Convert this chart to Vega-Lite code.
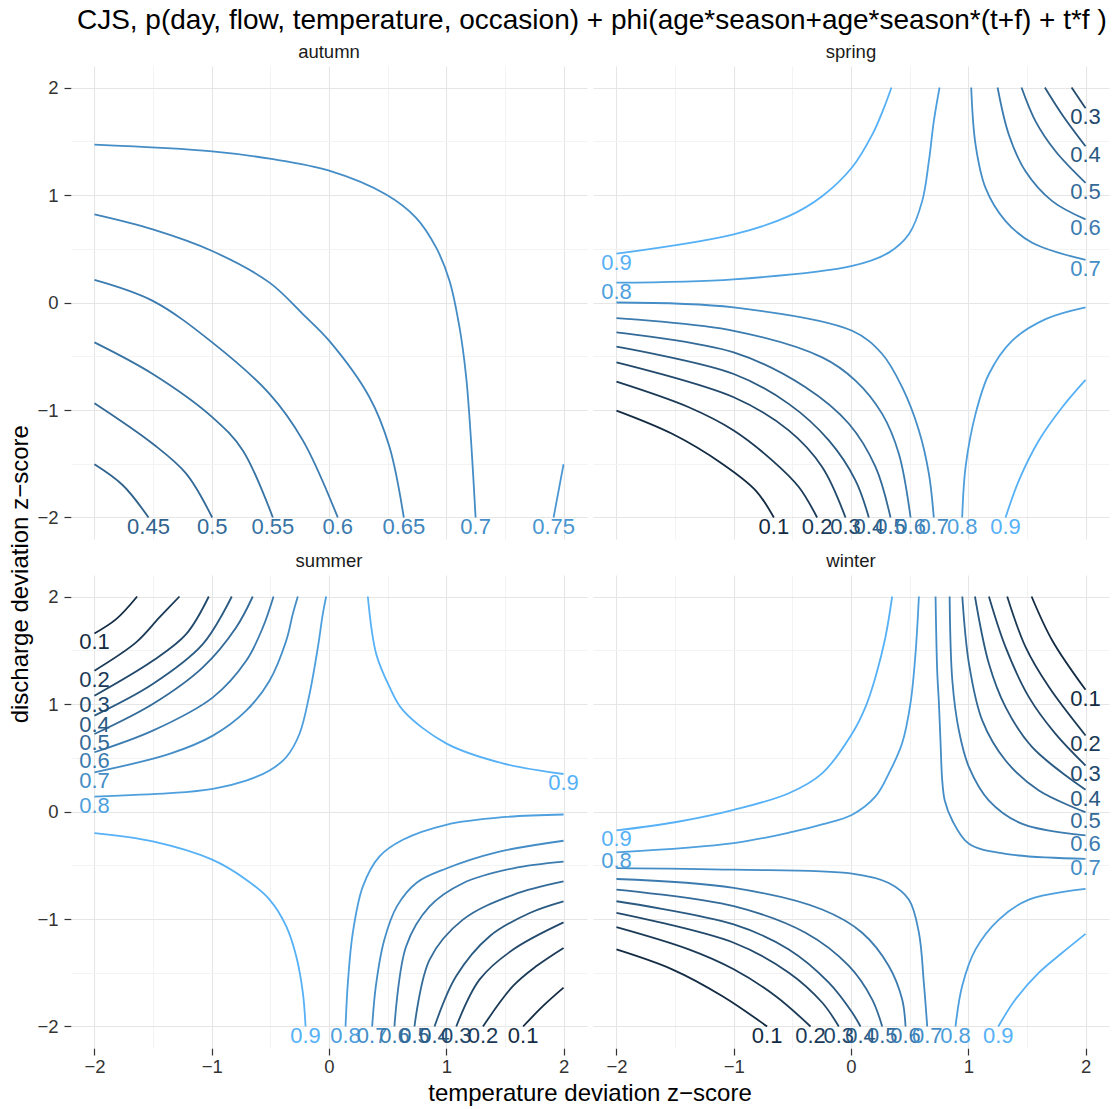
{
"$schema": "https://vega.github.io/schema/vega-lite/v6.json",
"padding": {"left": 8, "right": 2, "top": 6, "bottom": 2},
"title": {"text": "CJS, p(day, flow, temperature, occasion) + phi(age*season+age*season*(t+f) + t*f )", "fontSize": 28, "font": "Liberation Sans", "fontWeight": "normal", "color": "black", "anchor": "start", "dx": 68, "offset": 8},
"vconcat": [{
"title": {"text": "discharge deviation z−score", "orient": "left", "fontSize": 24, "font": "Liberation Sans", "fontWeight": "normal", "color": "black", "anchor": "middle", "offset": 4},
"data": {"values": [
{"s":"autumn","k":"l","g":"a1","o":1,"v":0.45,"x":-2,"y":-1.505},
{"s":"autumn","k":"l","g":"a1","o":2,"v":0.45,"x":-1.758,"y":-1.7},
{"s":"autumn","k":"l","g":"a1","o":3,"v":0.45,"x":-1.539,"y":-2},
{"s":"autumn","k":"l","g":"a2","o":1,"v":0.5,"x":-2,"y":-0.937},
{"s":"autumn","k":"l","g":"a2","o":2,"v":0.5,"x":-1.503,"y":-1.314},
{"s":"autumn","k":"l","g":"a2","o":3,"v":0.5,"x":-1.218,"y":-1.592},
{"s":"autumn","k":"l","g":"a2","o":4,"v":0.5,"x":-0.996,"y":-2},
{"s":"autumn","k":"l","g":"a3","o":1,"v":0.55,"x":-2,"y":-0.371},
{"s":"autumn","k":"l","g":"a3","o":2,"v":0.55,"x":-1.503,"y":-0.665},
{"s":"autumn","k":"l","g":"a3","o":3,"v":0.55,"x":-0.996,"y":-1.066},
{"s":"autumn","k":"l","g":"a3","o":4,"v":0.55,"x":-0.735,"y":-1.376},
{"s":"autumn","k":"l","g":"a3","o":5,"v":0.55,"x":-0.479,"y":-2},
{"s":"autumn","k":"l","g":"a4","o":1,"v":0.6,"x":-2,"y":0.21},
{"s":"autumn","k":"l","g":"a4","o":2,"v":0.6,"x":-1.503,"y":0.015},
{"s":"autumn","k":"l","g":"a4","o":3,"v":0.6,"x":-0.996,"y":-0.371},
{"s":"autumn","k":"l","g":"a4","o":4,"v":0.6,"x":-0.507,"y":-0.85},
{"s":"autumn","k":"l","g":"a4","o":5,"v":0.6,"x":-0.223,"y":-1.283},
{"s":"autumn","k":"l","g":"a4","o":6,"v":0.6,"x":0.075,"y":-2},
{"s":"autumn","k":"l","g":"a5","o":1,"v":0.65,"x":-2,"y":0.819},
{"s":"autumn","k":"l","g":"a5","o":2,"v":0.65,"x":-1.503,"y":0.68},
{"s":"autumn","k":"l","g":"a5","o":3,"v":0.65,"x":-0.996,"y":0.479},
{"s":"autumn","k":"l","g":"a5","o":4,"v":0.65,"x":-0.507,"y":0.185},
{"s":"autumn","k":"l","g":"a5","o":5,"v":0.65,"x":-0.223,"y":-0.108},
{"s":"autumn","k":"l","g":"a5","o":6,"v":0.65,"x":0.001,"y":-0.355},
{"s":"autumn","k":"l","g":"a5","o":7,"v":0.65,"x":0.345,"y":-0.881},
{"s":"autumn","k":"l","g":"a5","o":8,"v":0.65,"x":0.516,"y":-1.345},
{"s":"autumn","k":"l","g":"a5","o":9,"v":0.65,"x":0.638,"y":-2},
{"s":"autumn","k":"l","g":"a6","o":1,"v":0.7,"x":-2,"y":1.468},
{"s":"autumn","k":"l","g":"a6","o":2,"v":0.7,"x":-0.996,"y":1.406},
{"s":"autumn","k":"l","g":"a6","o":3,"v":0.7,"x":-0.507,"y":1.338},
{"s":"autumn","k":"l","g":"a6","o":4,"v":0.7,"x":0.001,"y":1.227},
{"s":"autumn","k":"l","g":"a6","o":5,"v":0.7,"x":0.487,"y":1.005},
{"s":"autumn","k":"l","g":"a6","o":6,"v":0.7,"x":0.743,"y":0.788},
{"s":"autumn","k":"l","g":"a6","o":7,"v":0.7,"x":0.914,"y":0.51},
{"s":"autumn","k":"l","g":"a6","o":8,"v":0.7,"x":1.028,"y":0.201},
{"s":"autumn","k":"l","g":"a6","o":9,"v":0.7,"x":1.113,"y":-0.232},
{"s":"autumn","k":"l","g":"a6","o":10,"v":0.7,"x":1.17,"y":-0.696},
{"s":"autumn","k":"l","g":"a6","o":11,"v":0.7,"x":1.213,"y":-1.314},
{"s":"autumn","k":"l","g":"a6","o":12,"v":0.7,"x":1.25,"y":-2},
{"s":"autumn","k":"l","g":"a7","o":1,"v":0.75,"x":2,"y":-1.505},
{"s":"autumn","k":"l","g":"a7","o":2,"v":0.75,"x":1.915,"y":-2},
{"s":"autumn","k":"t","v":0.45,"t":"0.45","x":-1.539,"y":-2},
{"s":"autumn","k":"t","v":0.5,"t":"0.5","x":-0.996,"y":-2},
{"s":"autumn","k":"t","v":0.55,"t":"0.55","x":-0.479,"y":-2},
{"s":"autumn","k":"t","v":0.6,"t":"0.6","x":0.075,"y":-2},
{"s":"autumn","k":"t","v":0.65,"t":"0.65","x":0.638,"y":-2},
{"s":"autumn","k":"t","v":0.7,"t":"0.7","x":1.25,"y":-2},
{"s":"autumn","k":"t","v":0.75,"t":"0.75","x":1.915,"y":-2},

{"s":"spring","k":"l","g":"p1","o":1,"v":0.9,"x":-2,"y":0.454},
{"s":"spring","k":"l","g":"p1","o":2,"v":0.9,"x":-1,"y":0.634},
{"s":"spring","k":"l","g":"p1","o":3,"v":0.9,"x":-0.531,"y":0.804},
{"s":"spring","k":"l","g":"p1","o":4,"v":0.9,"x":-0.246,"y":0.989},
{"s":"spring","k":"l","g":"p1","o":5,"v":0.9,"x":0.01,"y":1.258},
{"s":"spring","k":"l","g":"p1","o":6,"v":0.9,"x":0.181,"y":1.561},
{"s":"spring","k":"l","g":"p1","o":7,"v":0.9,"x":0.28,"y":1.808},
{"s":"spring","k":"l","g":"p1","o":8,"v":0.9,"x":0.345,"y":2},
{"s":"spring","k":"l","g":"p2","o":1,"v":0.8,"x":-2,"y":0.185},
{"s":"spring","k":"l","g":"p2","o":2,"v":0.8,"x":-1,"y":0.216},
{"s":"spring","k":"l","g":"p2","o":3,"v":0.8,"x":0.01,"y":0.34},
{"s":"spring","k":"l","g":"p2","o":4,"v":0.8,"x":0.322,"y":0.464},
{"s":"spring","k":"l","g":"p2","o":5,"v":0.8,"x":0.493,"y":0.634},
{"s":"spring","k":"l","g":"p2","o":6,"v":0.8,"x":0.607,"y":0.943},
{"s":"spring","k":"l","g":"p2","o":7,"v":0.8,"x":0.664,"y":1.314},
{"s":"spring","k":"l","g":"p2","o":8,"v":0.8,"x":0.706,"y":1.685},
{"s":"spring","k":"l","g":"p2","o":9,"v":0.8,"x":0.755,"y":2},
{"s":"spring","k":"l","g":"p3","o":1,"v":0.7,"x":1.025,"y":2},
{"s":"spring","k":"l","g":"p3","o":2,"v":0.7,"x":1.062,"y":1.468},
{"s":"spring","k":"l","g":"p3","o":3,"v":0.7,"x":1.147,"y":1.066},
{"s":"spring","k":"l","g":"p3","o":4,"v":0.7,"x":1.318,"y":0.757},
{"s":"spring","k":"l","g":"p3","o":5,"v":0.7,"x":1.545,"y":0.556},
{"s":"spring","k":"l","g":"p3","o":6,"v":0.7,"x":2,"y":0.396},
{"s":"spring","k":"l","g":"p4","o":1,"v":0.6,"x":1.25,"y":2},
{"s":"spring","k":"l","g":"p4","o":2,"v":0.6,"x":1.346,"y":1.561},
{"s":"spring","k":"l","g":"p4","o":3,"v":0.6,"x":1.488,"y":1.221},
{"s":"spring","k":"l","g":"p4","o":4,"v":0.6,"x":1.716,"y":0.943},
{"s":"spring","k":"l","g":"p4","o":5,"v":0.6,"x":2,"y":0.773},
{"s":"spring","k":"l","g":"p5","o":1,"v":0.5,"x":1.454,"y":2},
{"s":"spring","k":"l","g":"p5","o":2,"v":0.5,"x":1.574,"y":1.685},
{"s":"spring","k":"l","g":"p5","o":3,"v":0.5,"x":1.744,"y":1.407},
{"s":"spring","k":"l","g":"p5","o":4,"v":0.5,"x":2,"y":1.113},
{"s":"spring","k":"l","g":"p6","o":1,"v":0.4,"x":1.653,"y":2},
{"s":"spring","k":"l","g":"p6","o":2,"v":0.4,"x":1.801,"y":1.747},
{"s":"spring","k":"l","g":"p6","o":3,"v":0.4,"x":2,"y":1.453},
{"s":"spring","k":"l","g":"p7","o":1,"v":0.3,"x":1.881,"y":2},
{"s":"spring","k":"l","g":"p7","o":2,"v":0.3,"x":2,"y":1.808},
{"s":"spring","k":"l","g":"p8","o":1,"v":0.7,"x":-2,"y":0},
{"s":"spring","k":"l","g":"p8","o":2,"v":0.7,"x":-1,"y":-0.046},
{"s":"spring","k":"l","g":"p8","o":3,"v":0.7,"x":0.01,"y":-0.263},
{"s":"spring","k":"l","g":"p8","o":4,"v":0.7,"x":0.266,"y":-0.479},
{"s":"spring","k":"l","g":"p8","o":5,"v":0.7,"x":0.436,"y":-0.788},
{"s":"spring","k":"l","g":"p8","o":6,"v":0.7,"x":0.579,"y":-1.19},
{"s":"spring","k":"l","g":"p8","o":7,"v":0.7,"x":0.664,"y":-1.592},
{"s":"spring","k":"l","g":"p8","o":8,"v":0.7,"x":0.706,"y":-2},
{"s":"spring","k":"l","g":"p9","o":1,"v":0.6,"x":-2,"y":-0.145},
{"s":"spring","k":"l","g":"p9","o":2,"v":0.6,"x":-1,"y":-0.263},
{"s":"spring","k":"l","g":"p9","o":3,"v":0.6,"x":-0.246,"y":-0.51},
{"s":"spring","k":"l","g":"p9","o":4,"v":0.6,"x":0.038,"y":-0.726},
{"s":"spring","k":"l","g":"p9","o":5,"v":0.6,"x":0.266,"y":-1.036},
{"s":"spring","k":"l","g":"p9","o":6,"v":0.6,"x":0.408,"y":-1.407},
{"s":"spring","k":"l","g":"p9","o":7,"v":0.6,"x":0.508,"y":-2},
{"s":"spring","k":"l","g":"p10","o":1,"v":0.5,"x":-2,"y":-0.278},
{"s":"spring","k":"l","g":"p10","o":2,"v":0.5,"x":-1,"y":-0.464},
{"s":"spring","k":"l","g":"p10","o":3,"v":0.5,"x":-0.388,"y":-0.788},
{"s":"spring","k":"l","g":"p10","o":4,"v":0.5,"x":-0.018,"y":-1.128},
{"s":"spring","k":"l","g":"p10","o":5,"v":0.5,"x":0.209,"y":-1.53},
{"s":"spring","k":"l","g":"p10","o":6,"v":0.5,"x":0.337,"y":-2},
{"s":"spring","k":"l","g":"p11","o":1,"v":0.4,"x":-2,"y":-0.411},
{"s":"spring","k":"l","g":"p11","o":2,"v":0.4,"x":-1,"y":-0.665},
{"s":"spring","k":"l","g":"p11","o":3,"v":0.4,"x":-0.531,"y":-0.943},
{"s":"spring","k":"l","g":"p11","o":4,"v":0.4,"x":-0.189,"y":-1.283},
{"s":"spring","k":"l","g":"p11","o":5,"v":0.4,"x":0.038,"y":-1.654},
{"s":"spring","k":"l","g":"p11","o":6,"v":0.4,"x":0.152,"y":-2},
{"s":"spring","k":"l","g":"p12","o":1,"v":0.3,"x":-2,"y":-0.556},
{"s":"spring","k":"l","g":"p12","o":2,"v":0.3,"x":-1,"y":-0.881},
{"s":"spring","k":"l","g":"p12","o":3,"v":0.3,"x":-0.531,"y":-1.19},
{"s":"spring","k":"l","g":"p12","o":4,"v":0.3,"x":-0.246,"y":-1.53},
{"s":"spring","k":"l","g":"p12","o":5,"v":0.3,"x":-0.047,"y":-2},
{"s":"spring","k":"l","g":"p13","o":1,"v":0.2,"x":-2,"y":-0.736},
{"s":"spring","k":"l","g":"p13","o":2,"v":0.2,"x":-1.383,"y":-0.974},
{"s":"spring","k":"l","g":"p13","o":3,"v":0.2,"x":-1,"y":-1.19},
{"s":"spring","k":"l","g":"p13","o":4,"v":0.2,"x":-0.672,"y":-1.468},
{"s":"spring","k":"l","g":"p13","o":5,"v":0.2,"x":-0.445,"y":-1.716},
{"s":"spring","k":"l","g":"p13","o":6,"v":0.2,"x":-0.289,"y":-2},
{"s":"spring","k":"l","g":"p14","o":1,"v":0.1,"x":-2,"y":-1.005},
{"s":"spring","k":"l","g":"p14","o":2,"v":0.1,"x":-1.525,"y":-1.221},
{"s":"spring","k":"l","g":"p14","o":3,"v":0.1,"x":-1.099,"y":-1.499},
{"s":"spring","k":"l","g":"p14","o":4,"v":0.1,"x":-0.814,"y":-1.747},
{"s":"spring","k":"l","g":"p14","o":5,"v":0.1,"x":-0.658,"y":-2},
{"s":"spring","k":"l","g":"p15","o":1,"v":0.8,"x":0.948,"y":-2},
{"s":"spring","k":"l","g":"p15","o":2,"v":0.8,"x":0.977,"y":-1.53},
{"s":"spring","k":"l","g":"p15","o":3,"v":0.8,"x":1.062,"y":-1.036},
{"s":"spring","k":"l","g":"p15","o":4,"v":0.8,"x":1.176,"y":-0.665},
{"s":"spring","k":"l","g":"p15","o":5,"v":0.8,"x":1.375,"y":-0.355},
{"s":"spring","k":"l","g":"p15","o":6,"v":0.8,"x":1.659,"y":-0.155},
{"s":"spring","k":"l","g":"p15","o":7,"v":0.8,"x":2,"y":-0.046},
{"s":"spring","k":"l","g":"p16","o":1,"v":0.9,"x":1.318,"y":-2},
{"s":"spring","k":"l","g":"p16","o":2,"v":0.9,"x":1.432,"y":-1.654},
{"s":"spring","k":"l","g":"p16","o":3,"v":0.9,"x":1.602,"y":-1.283},
{"s":"spring","k":"l","g":"p16","o":4,"v":0.9,"x":1.801,"y":-0.974},
{"s":"spring","k":"l","g":"p16","o":5,"v":0.9,"x":2,"y":-0.72},
{"s":"spring","k":"t","v":0.9,"t":"0.9","x":-2,"y":0.454},
{"s":"spring","k":"t","v":0.8,"t":"0.8","x":-2,"y":0.185},
{"s":"spring","k":"t","v":0.3,"t":"0.3","x":2,"y":1.808},
{"s":"spring","k":"t","v":0.4,"t":"0.4","x":2,"y":1.453},
{"s":"spring","k":"t","v":0.5,"t":"0.5","x":2,"y":1.113},
{"s":"spring","k":"t","v":0.6,"t":"0.6","x":2,"y":0.773},
{"s":"spring","k":"t","v":0.7,"t":"0.7","x":2,"y":0.396},
{"s":"spring","k":"t","v":0.1,"t":"0.1","x":-0.658,"y":-2},
{"s":"spring","k":"t","v":0.2,"t":"0.2","x":-0.289,"y":-2},
{"s":"spring","k":"t","v":0.3,"t":"0.3","x":-0.047,"y":-2},
{"s":"spring","k":"t","v":0.4,"t":"0.4","x":0.152,"y":-2},
{"s":"spring","k":"t","v":0.5,"t":"0.5","x":0.337,"y":-2},
{"s":"spring","k":"t","v":0.6,"t":"0.6","x":0.508,"y":-2},
{"s":"spring","k":"t","v":0.7,"t":"0.7","x":0.706,"y":-2},
{"s":"spring","k":"t","v":0.8,"t":"0.8","x":0.948,"y":-2},
{"s":"spring","k":"t","v":0.9,"t":"0.9","x":1.318,"y":-2},

{"s":"summer","k":"l","g":"u1","o":1,"v":0.1,"x":-2,"y":1.656},
{"s":"summer","k":"l","g":"u1","o":2,"v":0.1,"x":-1.815,"y":1.789},
{"s":"summer","k":"l","g":"u1","o":3,"v":0.1,"x":-1.636,"y":2},
{"s":"summer","k":"l","g":"u2","o":1,"v":0.2,"x":-2,"y":1.31},
{"s":"summer","k":"l","g":"u2","o":2,"v":0.2,"x":-1.645,"y":1.573},
{"s":"summer","k":"l","g":"u2","o":3,"v":0.2,"x":-1.446,"y":1.805},
{"s":"summer","k":"l","g":"u2","o":4,"v":0.2,"x":-1.275,"y":2},
{"s":"summer","k":"l","g":"u3","o":1,"v":0.3,"x":-2,"y":1.077},
{"s":"summer","k":"l","g":"u3","o":2,"v":0.3,"x":-1.503,"y":1.402},
{"s":"summer","k":"l","g":"u3","o":3,"v":0.3,"x":-1.218,"y":1.65},
{"s":"summer","k":"l","g":"u3","o":4,"v":0.3,"x":-1.025,"y":2},
{"s":"summer","k":"l","g":"u4","o":1,"v":0.4,"x":-2,"y":0.892},
{"s":"summer","k":"l","g":"u4","o":2,"v":0.4,"x":-1.503,"y":1.186},
{"s":"summer","k":"l","g":"u4","o":3,"v":0.4,"x":-1.076,"y":1.557},
{"s":"summer","k":"l","g":"u4","o":4,"v":0.4,"x":-0.829,"y":2},
{"s":"summer","k":"l","g":"u5","o":1,"v":0.5,"x":-2,"y":0.721},
{"s":"summer","k":"l","g":"u5","o":2,"v":0.5,"x":-1.503,"y":1.0},
{"s":"summer","k":"l","g":"u5","o":3,"v":0.5,"x":-1.076,"y":1.341},
{"s":"summer","k":"l","g":"u5","o":4,"v":0.5,"x":-0.792,"y":1.712},
{"s":"summer","k":"l","g":"u5","o":5,"v":0.5,"x":-0.65,"y":2},
{"s":"summer","k":"l","g":"u6","o":1,"v":0.6,"x":-2,"y":0.551},
{"s":"summer","k":"l","g":"u6","o":2,"v":0.6,"x":-1.503,"y":0.752},
{"s":"summer","k":"l","g":"u6","o":3,"v":0.6,"x":-0.99,"y":1.062},
{"s":"summer","k":"l","g":"u6","o":4,"v":0.6,"x":-0.706,"y":1.402},
{"s":"summer","k":"l","g":"u6","o":5,"v":0.6,"x":-0.564,"y":1.712},
{"s":"summer","k":"l","g":"u6","o":6,"v":0.6,"x":-0.473,"y":2},
{"s":"summer","k":"l","g":"u7","o":1,"v":0.7,"x":-2,"y":0.365},
{"s":"summer","k":"l","g":"u7","o":2,"v":0.7,"x":-1.36,"y":0.536},
{"s":"summer","k":"l","g":"u7","o":3,"v":0.7,"x":-0.99,"y":0.706},
{"s":"summer","k":"l","g":"u7","o":4,"v":0.7,"x":-0.706,"y":0.938},
{"s":"summer","k":"l","g":"u7","o":5,"v":0.7,"x":-0.507,"y":1.217},
{"s":"summer","k":"l","g":"u7","o":6,"v":0.7,"x":-0.365,"y":1.588},
{"s":"summer","k":"l","g":"u7","o":7,"v":0.7,"x":-0.309,"y":1.836},
{"s":"summer","k":"l","g":"u7","o":8,"v":0.7,"x":-0.266,"y":2},
{"s":"summer","k":"l","g":"u8","o":1,"v":0.8,"x":-2,"y":0.139},
{"s":"summer","k":"l","g":"u8","o":2,"v":0.8,"x":-1.36,"y":0.17},
{"s":"summer","k":"l","g":"u8","o":3,"v":0.8,"x":-0.99,"y":0.211},
{"s":"summer","k":"l","g":"u8","o":4,"v":0.8,"x":-0.706,"y":0.288},
{"s":"summer","k":"l","g":"u8","o":5,"v":0.8,"x":-0.507,"y":0.381},
{"s":"summer","k":"l","g":"u8","o":6,"v":0.8,"x":-0.365,"y":0.505},
{"s":"summer","k":"l","g":"u8","o":7,"v":0.8,"x":-0.252,"y":0.721},
{"s":"summer","k":"l","g":"u8","o":8,"v":0.8,"x":-0.166,"y":1.093},
{"s":"summer","k":"l","g":"u8","o":9,"v":0.8,"x":-0.095,"y":1.526},
{"s":"summer","k":"l","g":"u8","o":10,"v":0.8,"x":-0.053,"y":1.836},
{"s":"summer","k":"l","g":"u8","o":11,"v":0.8,"x":-0.024,"y":2},
{"s":"summer","k":"l","g":"u9","o":1,"v":0.9,"x":0.331,"y":2},
{"s":"summer","k":"l","g":"u9","o":2,"v":0.9,"x":0.402,"y":1.468},
{"s":"summer","k":"l","g":"u9","o":3,"v":0.9,"x":0.516,"y":1.159},
{"s":"summer","k":"l","g":"u9","o":4,"v":0.9,"x":0.63,"y":0.943},
{"s":"summer","k":"l","g":"u9","o":5,"v":0.9,"x":0.999,"y":0.634},
{"s":"summer","k":"l","g":"u9","o":6,"v":0.9,"x":1.482,"y":0.448},
{"s":"summer","k":"l","g":"u9","o":7,"v":0.9,"x":2,"y":0.349},
{"s":"summer","k":"l","g":"u10","o":1,"v":0.9,"x":-2,"y":-0.201},
{"s":"summer","k":"l","g":"u10","o":2,"v":0.9,"x":-1.503,"y":-0.278},
{"s":"summer","k":"l","g":"u10","o":3,"v":0.9,"x":-0.996,"y":-0.448},
{"s":"summer","k":"l","g":"u10","o":4,"v":0.9,"x":-0.706,"y":-0.634},
{"s":"summer","k":"l","g":"u10","o":5,"v":0.9,"x":-0.507,"y":-0.819},
{"s":"summer","k":"l","g":"u10","o":6,"v":0.9,"x":-0.365,"y":-1.066},
{"s":"summer","k":"l","g":"u10","o":7,"v":0.9,"x":-0.28,"y":-1.345},
{"s":"summer","k":"l","g":"u10","o":8,"v":0.9,"x":-0.223,"y":-1.685},
{"s":"summer","k":"l","g":"u10","o":9,"v":0.9,"x":-0.2,"y":-2},
{"s":"summer","k":"l","g":"u11","o":1,"v":0.8,"x":0.141,"y":-2},
{"s":"summer","k":"l","g":"u11","o":2,"v":0.8,"x":0.161,"y":-1.592},
{"s":"summer","k":"l","g":"u11","o":3,"v":0.8,"x":0.203,"y":-1.128},
{"s":"summer","k":"l","g":"u11","o":4,"v":0.8,"x":0.289,"y":-0.696},
{"s":"summer","k":"l","g":"u11","o":5,"v":0.8,"x":0.431,"y":-0.417},
{"s":"summer","k":"l","g":"u11","o":6,"v":0.8,"x":0.63,"y":-0.263},
{"s":"summer","k":"l","g":"u11","o":7,"v":0.8,"x":0.999,"y":-0.124},
{"s":"summer","k":"l","g":"u11","o":8,"v":0.8,"x":1.482,"y":-0.053},
{"s":"summer","k":"l","g":"u11","o":9,"v":0.8,"x":2,"y":-0.028},
{"s":"summer","k":"l","g":"u12","o":1,"v":0.7,"x":0.368,"y":-2},
{"s":"summer","k":"l","g":"u12","o":2,"v":0.7,"x":0.4,"y":-1.62},
{"s":"summer","k":"l","g":"u12","o":3,"v":0.7,"x":0.47,"y":-1.2},
{"s":"summer","k":"l","g":"u12","o":4,"v":0.7,"x":0.58,"y":-0.88},
{"s":"summer","k":"l","g":"u12","o":5,"v":0.7,"x":0.75,"y":-0.66},
{"s":"summer","k":"l","g":"u12","o":6,"v":0.7,"x":1.0,"y":-0.53},
{"s":"summer","k":"l","g":"u12","o":7,"v":0.7,"x":1.427,"y":-0.38},
{"s":"summer","k":"l","g":"u12","o":8,"v":0.7,"x":2,"y":-0.272},
{"s":"summer","k":"l","g":"u13","o":1,"v":0.6,"x":0.558,"y":-2},
{"s":"summer","k":"l","g":"u13","o":2,"v":0.6,"x":0.658,"y":-1.253},
{"s":"summer","k":"l","g":"u13","o":3,"v":0.6,"x":0.858,"y":-0.883},
{"s":"summer","k":"l","g":"u13","o":4,"v":0.6,"x":1.142,"y":-0.667},
{"s":"summer","k":"l","g":"u13","o":5,"v":0.6,"x":1.57,"y":-0.528},
{"s":"summer","k":"l","g":"u13","o":6,"v":0.6,"x":2,"y":-0.466},
{"s":"summer","k":"l","g":"u14","o":1,"v":0.5,"x":0.729,"y":-2},
{"s":"summer","k":"l","g":"u14","o":2,"v":0.5,"x":0.858,"y":-1.377},
{"s":"summer","k":"l","g":"u14","o":3,"v":0.5,"x":1.142,"y":-1.006},
{"s":"summer","k":"l","g":"u14","o":4,"v":0.5,"x":1.57,"y":-0.775},
{"s":"summer","k":"l","g":"u14","o":5,"v":0.5,"x":2,"y":-0.651},
{"s":"summer","k":"l","g":"u15","o":1,"v":0.4,"x":0.9,"y":-2},
{"s":"summer","k":"l","g":"u15","o":2,"v":0.4,"x":1.085,"y":-1.531},
{"s":"summer","k":"l","g":"u15","o":3,"v":0.4,"x":1.37,"y":-1.16},
{"s":"summer","k":"l","g":"u15","o":4,"v":0.4,"x":1.712,"y":-0.944},
{"s":"summer","k":"l","g":"u15","o":5,"v":0.4,"x":2,"y":-0.836},
{"s":"summer","k":"l","g":"u16","o":1,"v":0.3,"x":1.085,"y":-2},
{"s":"summer","k":"l","g":"u16","o":2,"v":0.3,"x":1.285,"y":-1.562},
{"s":"summer","k":"l","g":"u16","o":3,"v":0.3,"x":1.57,"y":-1.284},
{"s":"summer","k":"l","g":"u16","o":4,"v":0.3,"x":2,"y":-1.031},
{"s":"summer","k":"l","g":"u17","o":1,"v":0.2,"x":1.313,"y":-2},
{"s":"summer","k":"l","g":"u17","o":2,"v":0.2,"x":1.57,"y":-1.623},
{"s":"summer","k":"l","g":"u17","o":3,"v":0.2,"x":1.769,"y":-1.438},
{"s":"summer","k":"l","g":"u17","o":4,"v":0.2,"x":2,"y":-1.269},
{"s":"summer","k":"l","g":"u18","o":1,"v":0.1,"x":1.655,"y":-2},
{"s":"summer","k":"l","g":"u18","o":2,"v":0.1,"x":1.826,"y":-1.809},
{"s":"summer","k":"l","g":"u18","o":3,"v":0.1,"x":2,"y":-1.639},
{"s":"summer","k":"t","v":0.1,"t":"0.1","x":-2,"y":1.656},
{"s":"summer","k":"t","v":0.2,"t":"0.2","x":-2,"y":1.31},
{"s":"summer","k":"t","v":0.3,"t":"0.3","x":-2,"y":1.077},
{"s":"summer","k":"t","v":0.4,"t":"0.4","x":-2,"y":0.892},
{"s":"summer","k":"t","v":0.5,"t":"0.5","x":-2,"y":0.721},
{"s":"summer","k":"t","v":0.6,"t":"0.6","x":-2,"y":0.551},
{"s":"summer","k":"t","v":0.7,"t":"0.7","x":-2,"y":0.365},
{"s":"summer","k":"t","v":0.8,"t":"0.8","x":-2,"y":0.139},
{"s":"summer","k":"t","v":0.9,"t":"0.9","x":2,"y":0.349},
{"s":"summer","k":"t","v":0.9,"t":"0.9","x":-0.2,"y":-2},
{"s":"summer","k":"t","v":0.8,"t":"0.8","x":0.141,"y":-2},
{"s":"summer","k":"t","v":0.7,"t":"0.7","x":0.368,"y":-2},
{"s":"summer","k":"t","v":0.6,"t":"0.6","x":0.558,"y":-2},
{"s":"summer","k":"t","v":0.5,"t":"0.5","x":0.729,"y":-2},
{"s":"summer","k":"t","v":0.4,"t":"0.4","x":0.9,"y":-2},
{"s":"summer","k":"t","v":0.3,"t":"0.3","x":1.085,"y":-2},
{"s":"summer","k":"t","v":0.2,"t":"0.2","x":1.313,"y":-2},
{"s":"summer","k":"t","v":0.1,"t":"0.1","x":1.655,"y":-2},

{"s":"winter","k":"l","g":"w1","o":1,"v":0.9,"x":-2,"y":-0.176},
{"s":"winter","k":"l","g":"w1","o":2,"v":0.9,"x":-1.5,"y":-0.1},
{"s":"winter","k":"l","g":"w1","o":3,"v":0.9,"x":-1,"y":0.015},
{"s":"winter","k":"l","g":"w1","o":4,"v":0.9,"x":-0.53,"y":0.17},
{"s":"winter","k":"l","g":"w1","o":5,"v":0.9,"x":-0.246,"y":0.355},
{"s":"winter","k":"l","g":"w1","o":6,"v":0.9,"x":0.01,"y":0.726},
{"s":"winter","k":"l","g":"w1","o":7,"v":0.9,"x":0.124,"y":0.974},
{"s":"winter","k":"l","g":"w1","o":8,"v":0.9,"x":0.209,"y":1.252},
{"s":"winter","k":"l","g":"w1","o":9,"v":0.9,"x":0.294,"y":1.623},
{"s":"winter","k":"l","g":"w1","o":10,"v":0.9,"x":0.351,"y":2},
{"s":"winter","k":"l","g":"w2","o":1,"v":0.8,"x":-2,"y":-0.38},
{"s":"winter","k":"l","g":"w2","o":2,"v":0.8,"x":-1,"y":-0.294},
{"s":"winter","k":"l","g":"w2","o":3,"v":0.8,"x":-0.5,"y":-0.19},
{"s":"winter","k":"l","g":"w2","o":4,"v":0.8,"x":-0.246,"y":-0.12},
{"s":"winter","k":"l","g":"w2","o":5,"v":0.8,"x":0.01,"y":-0.03},
{"s":"winter","k":"l","g":"w2","o":6,"v":0.8,"x":0.209,"y":0.14},
{"s":"winter","k":"l","g":"w2","o":7,"v":0.8,"x":0.323,"y":0.355},
{"s":"winter","k":"l","g":"w2","o":8,"v":0.8,"x":0.436,"y":0.634},
{"s":"winter","k":"l","g":"w2","o":9,"v":0.8,"x":0.507,"y":1.005},
{"s":"winter","k":"l","g":"w2","o":10,"v":0.8,"x":0.55,"y":1.468},
{"s":"winter","k":"l","g":"w2","o":11,"v":0.8,"x":0.579,"y":2},
{"s":"winter","k":"l","g":"w3","o":1,"v":0.7,"x":0.721,"y":2},
{"s":"winter","k":"l","g":"w3","o":2,"v":0.7,"x":0.735,"y":1.31},
{"s":"winter","k":"l","g":"w3","o":3,"v":0.7,"x":0.75,"y":1.0},
{"s":"winter","k":"l","g":"w3","o":4,"v":0.7,"x":0.765,"y":0.6},
{"s":"winter","k":"l","g":"w3","o":5,"v":0.7,"x":0.778,"y":0.288},
{"s":"winter","k":"l","g":"w3","o":6,"v":0.7,"x":0.8,"y":0.1},
{"s":"winter","k":"l","g":"w3","o":7,"v":0.7,"x":0.864,"y":-0.084},
{"s":"winter","k":"l","g":"w3","o":8,"v":0.7,"x":1.006,"y":-0.301},
{"s":"winter","k":"l","g":"w3","o":9,"v":0.7,"x":1.318,"y":-0.394},
{"s":"winter","k":"l","g":"w3","o":10,"v":0.7,"x":2,"y":-0.44},
{"s":"winter","k":"l","g":"w4","o":1,"v":0.6,"x":0.841,"y":2},
{"s":"winter","k":"l","g":"w4","o":2,"v":0.6,"x":0.864,"y":1.219},
{"s":"winter","k":"l","g":"w4","o":3,"v":0.6,"x":0.92,"y":0.753},
{"s":"winter","k":"l","g":"w4","o":4,"v":0.6,"x":1.006,"y":0.412},
{"s":"winter","k":"l","g":"w4","o":5,"v":0.6,"x":1.176,"y":0.102},
{"s":"winter","k":"l","g":"w4","o":6,"v":0.6,"x":1.46,"y":-0.115},
{"s":"winter","k":"l","g":"w4","o":7,"v":0.6,"x":2,"y":-0.223},
{"s":"winter","k":"l","g":"w5","o":1,"v":0.5,"x":0.949,"y":2},
{"s":"winter","k":"l","g":"w5","o":2,"v":0.5,"x":1.006,"y":1.374},
{"s":"winter","k":"l","g":"w5","o":3,"v":0.5,"x":1.119,"y":0.847},
{"s":"winter","k":"l","g":"w5","o":4,"v":0.5,"x":1.318,"y":0.474},
{"s":"winter","k":"l","g":"w5","o":5,"v":0.5,"x":1.602,"y":0.195},
{"s":"winter","k":"l","g":"w5","o":6,"v":0.5,"x":2,"y":-0.006},
{"s":"winter","k":"l","g":"w6","o":1,"v":0.4,"x":1.057,"y":2},
{"s":"winter","k":"l","g":"w6","o":2,"v":0.4,"x":1.176,"y":1.374},
{"s":"winter","k":"l","g":"w6","o":3,"v":0.4,"x":1.318,"y":0.971},
{"s":"winter","k":"l","g":"w6","o":4,"v":0.4,"x":1.545,"y":0.598},
{"s":"winter","k":"l","g":"w6","o":5,"v":0.4,"x":2,"y":0.202},
{"s":"winter","k":"l","g":"w7","o":1,"v":0.3,"x":1.176,"y":2},
{"s":"winter","k":"l","g":"w7","o":2,"v":0.3,"x":1.318,"y":1.529},
{"s":"winter","k":"l","g":"w7","o":3,"v":0.3,"x":1.517,"y":1.064},
{"s":"winter","k":"l","g":"w7","o":4,"v":0.3,"x":1.744,"y":0.722},
{"s":"winter","k":"l","g":"w7","o":5,"v":0.3,"x":2,"y":0.428},
{"s":"winter","k":"l","g":"w8","o":1,"v":0.2,"x":1.332,"y":2},
{"s":"winter","k":"l","g":"w8","o":2,"v":0.2,"x":1.489,"y":1.529},
{"s":"winter","k":"l","g":"w8","o":3,"v":0.2,"x":1.688,"y":1.157},
{"s":"winter","k":"l","g":"w8","o":4,"v":0.2,"x":2,"y":0.707},
{"s":"winter","k":"l","g":"w9","o":1,"v":0.1,"x":1.54,"y":2},
{"s":"winter","k":"l","g":"w9","o":2,"v":0.1,"x":1.716,"y":1.591},
{"s":"winter","k":"l","g":"w9","o":3,"v":0.1,"x":2,"y":1.132},
{"s":"winter","k":"l","g":"w10","o":1,"v":0.7,"x":-2,"y":-0.526},
{"s":"winter","k":"l","g":"w10","o":2,"v":0.7,"x":-1,"y":-0.541},
{"s":"winter","k":"l","g":"w10","o":3,"v":0.7,"x":0.01,"y":-0.578},
{"s":"winter","k":"l","g":"w10","o":4,"v":0.7,"x":0.322,"y":-0.665},
{"s":"winter","k":"l","g":"w10","o":5,"v":0.7,"x":0.493,"y":-0.819},
{"s":"winter","k":"l","g":"w10","o":6,"v":0.7,"x":0.579,"y":-1.128},
{"s":"winter","k":"l","g":"w10","o":7,"v":0.7,"x":0.621,"y":-1.592},
{"s":"winter","k":"l","g":"w10","o":8,"v":0.7,"x":0.65,"y":-2},
{"s":"winter","k":"l","g":"w11","o":1,"v":0.6,"x":-2,"y":-0.628},
{"s":"winter","k":"l","g":"w11","o":2,"v":0.6,"x":-1,"y":-0.711},
{"s":"winter","k":"l","g":"w11","o":3,"v":0.6,"x":-0.246,"y":-0.912},
{"s":"winter","k":"l","g":"w11","o":4,"v":0.6,"x":0.095,"y":-1.128},
{"s":"winter","k":"l","g":"w11","o":5,"v":0.6,"x":0.322,"y":-1.437},
{"s":"winter","k":"l","g":"w11","o":6,"v":0.6,"x":0.436,"y":-1.747},
{"s":"winter","k":"l","g":"w11","o":7,"v":0.6,"x":0.465,"y":-2},
{"s":"winter","k":"l","g":"w12","o":1,"v":0.5,"x":-2,"y":-0.726},
{"s":"winter","k":"l","g":"w12","o":2,"v":0.5,"x":-1,"y":-0.881},
{"s":"winter","k":"l","g":"w12","o":3,"v":0.5,"x":-0.388,"y":-1.128},
{"s":"winter","k":"l","g":"w12","o":4,"v":0.5,"x":-0.018,"y":-1.437},
{"s":"winter","k":"l","g":"w12","o":5,"v":0.5,"x":0.18,"y":-1.747},
{"s":"winter","k":"l","g":"w12","o":6,"v":0.5,"x":0.266,"y":-2},
{"s":"winter","k":"l","g":"w13","o":1,"v":0.4,"x":-2,"y":-0.835},
{"s":"winter","k":"l","g":"w13","o":2,"v":0.4,"x":-1,"y":-1.051},
{"s":"winter","k":"l","g":"w13","o":3,"v":0.4,"x":-0.53,"y":-1.283},
{"s":"winter","k":"l","g":"w13","o":4,"v":0.4,"x":-0.189,"y":-1.592},
{"s":"winter","k":"l","g":"w13","o":5,"v":0.4,"x":0.01,"y":-1.87},
{"s":"winter","k":"l","g":"w13","o":6,"v":0.4,"x":0.081,"y":-2},
{"s":"winter","k":"l","g":"w14","o":1,"v":0.3,"x":-2,"y":-0.943},
{"s":"winter","k":"l","g":"w14","o":2,"v":0.3,"x":-1,"y":-1.221},
{"s":"winter","k":"l","g":"w14","o":3,"v":0.3,"x":-0.53,"y":-1.499},
{"s":"winter","k":"l","g":"w14","o":4,"v":0.3,"x":-0.246,"y":-1.777},
{"s":"winter","k":"l","g":"w14","o":5,"v":0.3,"x":-0.104,"y":-2},
{"s":"winter","k":"l","g":"w15","o":1,"v":0.2,"x":-2,"y":-1.076},
{"s":"winter","k":"l","g":"w15","o":2,"v":0.2,"x":-1.383,"y":-1.283},
{"s":"winter","k":"l","g":"w15","o":3,"v":0.2,"x":-1,"y":-1.468},
{"s":"winter","k":"l","g":"w15","o":4,"v":0.2,"x":-0.644,"y":-1.716},
{"s":"winter","k":"l","g":"w15","o":5,"v":0.2,"x":-0.345,"y":-2},
{"s":"winter","k":"l","g":"w16","o":1,"v":0.1,"x":-2,"y":-1.283},
{"s":"winter","k":"l","g":"w16","o":2,"v":0.1,"x":-1.525,"y":-1.468},
{"s":"winter","k":"l","g":"w16","o":3,"v":0.1,"x":-1.099,"y":-1.716},
{"s":"winter","k":"l","g":"w16","o":4,"v":0.1,"x":-0.715,"y":-2},
{"s":"winter","k":"l","g":"w17","o":1,"v":0.8,"x":0.891,"y":-2},
{"s":"winter","k":"l","g":"w17","o":2,"v":0.8,"x":0.948,"y":-1.623},
{"s":"winter","k":"l","g":"w17","o":3,"v":0.8,"x":1.062,"y":-1.283},
{"s":"winter","k":"l","g":"w17","o":4,"v":0.8,"x":1.261,"y":-1.005},
{"s":"winter","k":"l","g":"w17","o":5,"v":0.8,"x":1.517,"y":-0.819},
{"s":"winter","k":"l","g":"w17","o":6,"v":0.8,"x":2,"y":-0.72},
{"s":"winter","k":"l","g":"w18","o":1,"v":0.9,"x":1.256,"y":-2},
{"s":"winter","k":"l","g":"w18","o":2,"v":0.9,"x":1.403,"y":-1.747},
{"s":"winter","k":"l","g":"w18","o":3,"v":0.9,"x":1.602,"y":-1.499},
{"s":"winter","k":"l","g":"w18","o":4,"v":0.9,"x":1.801,"y":-1.314},
{"s":"winter","k":"l","g":"w18","o":5,"v":0.9,"x":2,"y":-1.138},
{"s":"winter","k":"t","v":0.9,"t":"0.9","x":-2,"y":-0.176},
{"s":"winter","k":"t","v":0.8,"t":"0.8","x":-2,"y":-0.38},
{"s":"winter","k":"t","v":0.1,"t":"0.1","x":2,"y":1.132},
{"s":"winter","k":"t","v":0.2,"t":"0.2","x":2,"y":0.707},
{"s":"winter","k":"t","v":0.3,"t":"0.3","x":2,"y":0.428},
{"s":"winter","k":"t","v":0.4,"t":"0.4","x":2,"y":0.202},
{"s":"winter","k":"t","v":0.5,"t":"0.5","x":2,"y":-0.006},
{"s":"winter","k":"t","v":0.6,"t":"0.6","x":2,"y":-0.223},
{"s":"winter","k":"t","v":0.7,"t":"0.7","x":2,"y":-0.44},
{"s":"winter","k":"t","v":0.1,"t":"0.1","x":-0.715,"y":-2},
{"s":"winter","k":"t","v":0.2,"t":"0.2","x":-0.345,"y":-2},
{"s":"winter","k":"t","v":0.3,"t":"0.3","x":-0.104,"y":-2},
{"s":"winter","k":"t","v":0.4,"t":"0.4","x":0.081,"y":-2},
{"s":"winter","k":"t","v":0.5,"t":"0.5","x":0.266,"y":-2},
{"s":"winter","k":"t","v":0.6,"t":"0.6","x":0.465,"y":-2},
{"s":"winter","k":"t","v":0.7,"t":"0.7","x":0.65,"y":-2},
{"s":"winter","k":"t","v":0.8,"t":"0.8","x":0.891,"y":-2},
{"s":"winter","k":"t","v":0.9,"t":"0.9","x":1.256,"y":-2}
]},
"facet": {"field": "s", "type": "nominal", "title": "temperature deviation z−score",
  "header": {"titleOrient": "bottom", "titleFontSize": 24, "titleFont": "Liberation Sans", "titleFontWeight": "normal", "titleColor": "black", "titlePadding": 6,
    "labelFontSize": 18.5, "labelFont": "Liberation Sans", "labelColor": "#1a1a1a", "labelPadding": 5}},
"columns": 2,
"spacing": {"row": 12, "column": 6},
"spec": {
  "width": 516,
  "height": 473,
  "encoding": {
    "x": {"field": "x", "type": "quantitative", "title": null,
      "scale": {"domain": [-2.2, 2.2], "nice": false, "zero": false},
      "axis": {"values": [-2, -1.5, -1, -0.5, 0, 0.5, 1, 1.5, 2], "labelPadding": 2,
        "labelExpr": "datum.value % 1 === 0 ? replace(format(datum.value, 'd'), '-', '−') : ''",
        "tickOpacity": {"condition": {"test": "datum.value % 1 !== 0", "value": 0}, "value": 1},
        "gridColor": {"condition": {"test": "datum.value % 1 !== 0", "value": "#f3f3f3"}, "value": "#e6e6e6"}}},
    "y": {"field": "y", "type": "quantitative", "title": null,
      "scale": {"domain": [-2.2, 2.2], "nice": false, "zero": false},
      "axis": {"values": [-2, -1.5, -1, -0.5, 0, 0.5, 1, 1.5, 2], "labelPadding": 6,
        "labelExpr": "datum.value % 1 === 0 ? replace(format(datum.value, 'd'), '-', '−') : ''",
        "tickOpacity": {"condition": {"test": "datum.value % 1 !== 0", "value": 0}, "value": 1},
        "gridColor": {"condition": {"test": "datum.value % 1 !== 0", "value": "#f3f3f3"}, "value": "#e6e6e6"}}},
    "color": {"field": "v", "type": "quantitative", "legend": null,
      "scale": {"domain": [0.1, 0.9], "range": ["#132B43", "#56B1F7"], "interpolate": "lab"}}
  },
  "layer": [
    {"transform": [{"filter": "datum.k === 'l'"}],
     "mark": {"type": "line", "interpolate": "catmull-rom", "strokeWidth": 1.8},
     "encoding": {"detail": {"field": "g"}, "order": {"field": "o", "type": "quantitative"}}},
    {"transform": [{"filter": "datum.k === 't'"}],
     "mark": {"type": "text", "fontSize": 22, "font": "Liberation Sans", "dy": 9, "baseline": "middle", "align": "center"},
     "encoding": {"text": {"field": "t"}}}
  ]
}
}],
"config": {
  "view": {"stroke": null},
  "font": "Liberation Sans",
  "axis": {"domain": false, "labelFontSize": 18.5, "labelColor": "#333333", "labelFont": "Liberation Sans",
    "tickColor": "#333333", "tickSize": 7, "tickWidth": 1.2, "gridWidth": 1.1}
}
}
